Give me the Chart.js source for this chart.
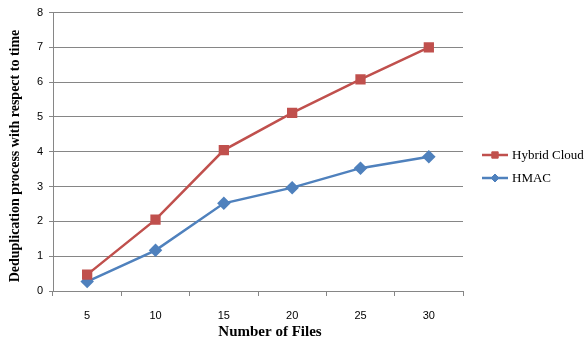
<!DOCTYPE html>
<html>
<head>
<style>
  html, body { margin: 0; padding: 0; background: #fff; }
  #wrap { width: 585px; height: 340px; }
</style>
</head>
<body>
<div id="wrap"><canvas id="myChart" width="585" height="340"></canvas></div>
<script src="https://cdn.jsdelivr.net/npm/chart.js"></script>
<script>
    const files = ['5', '10', '15', '20', '25', '30'];
    const hybridCloud = [0.47, 2.05, 4.05, 5.12, 6.08, 7.0];
    const hmac = [0.27, 1.17, 2.52, 2.97, 3.53, 3.86];
    const xTitle = 'Number of Files';
    const yTitle = 'Deduplication process with respect to time';

    // legend and axis titles drawn by hand, placed like the original
    const sideLegend = {
        id: 'sideLegend',
        afterDraw(chart) {
            const ctx = chart.ctx;
            const rows = [155, 178];
            chart.data.datasets.forEach((ds, i) => {
                const y = rows[i];
                ctx.save();
                ctx.strokeStyle = ds.borderColor;
                ctx.fillStyle = ds.backgroundColor;
                ctx.lineWidth = 2.5;
                ctx.beginPath();
                ctx.moveTo(482, y);
                ctx.lineTo(508, y);
                ctx.stroke();
                ctx.lineWidth = 1;
                Chart.helpers.drawPoint(ctx, {
                    pointStyle: ds.pointStyle,
                    radius: ds.pointRadius - 1,
                    borderWidth: 1
                }, 495, y);
                ctx.fillStyle = '#000';
                ctx.font = '13px "Liberation Serif"';
                ctx.textBaseline = 'middle';
                ctx.fillText(ds.label, 512, y + 1);
                ctx.restore();
            });

            ctx.save();
            ctx.fillStyle = '#000';
            ctx.textAlign = 'center';
            ctx.textBaseline = 'middle';
            ctx.font = 'bold 15px "Liberation Serif"';
            ctx.fillText(xTitle, 270, 332);
            ctx.translate(15, 156);
            ctx.rotate(-Math.PI / 2);
            ctx.font = 'bold 14px "Liberation Serif"';
            ctx.fillText(yTitle, 0, 0);
            ctx.restore();
        }
    };

    const ctx = document.getElementById('myChart').getContext('2d');
    new Chart(ctx, {
        type: 'line',
        data: {
            labels: files,
            datasets: [{
                label: 'Hybrid Cloud',
                data: hybridCloud,
                borderColor: '#C0504D',
                backgroundColor: '#C0504D',
                borderWidth: 2.5,
                pointStyle: 'rect',
                pointRadius: 5.5,
                pointHoverRadius: 5.5,
                tension: 0
            }, {
                label: 'HMAC',
                data: hmac,
                borderColor: '#4F81BD',
                backgroundColor: '#4F81BD',
                borderWidth: 2.5,
                pointStyle: 'rectRot',
                pointRadius: 5,
                pointHoverRadius: 5,
                tension: 0
            }]
        },
        options: {
            responsive: false,
            animation: false,
            layout: { padding: { left: 30, right: 122, top: 7, bottom: 0 } },
            plugins: {
                legend: { display: false },
                tooltip: { enabled: false }
            },
            scales: {
                x: {
                    offset: true,
                    grid: {
                        offset: true,
                        drawOnChartArea: false,
                        color: '#868686',
                        tickLength: 5
                    },
                    border: { color: '#868686' },
                    ticks: {
                        color: '#000',
                        font: { family: 'Liberation Sans', size: 11 },
                        padding: 13
                    },
                    afterFit(scale) { scale.height = 49; }
                },
                y: {
                    min: 0,
                    max: 8,
                    ticks: {
                        stepSize: 1,
                        color: '#000',
                        font: { family: 'Liberation Sans', size: 11 },
                        padding: 6
                    },
                    grid: {
                        color: '#868686',
                        tickLength: 4
                    },
                    border: { color: '#868686' },
                    afterFit(scale) { scale.width = 23; }
                }
            }
        },
        plugins: [sideLegend]
    });
</script>
</body>
</html>
